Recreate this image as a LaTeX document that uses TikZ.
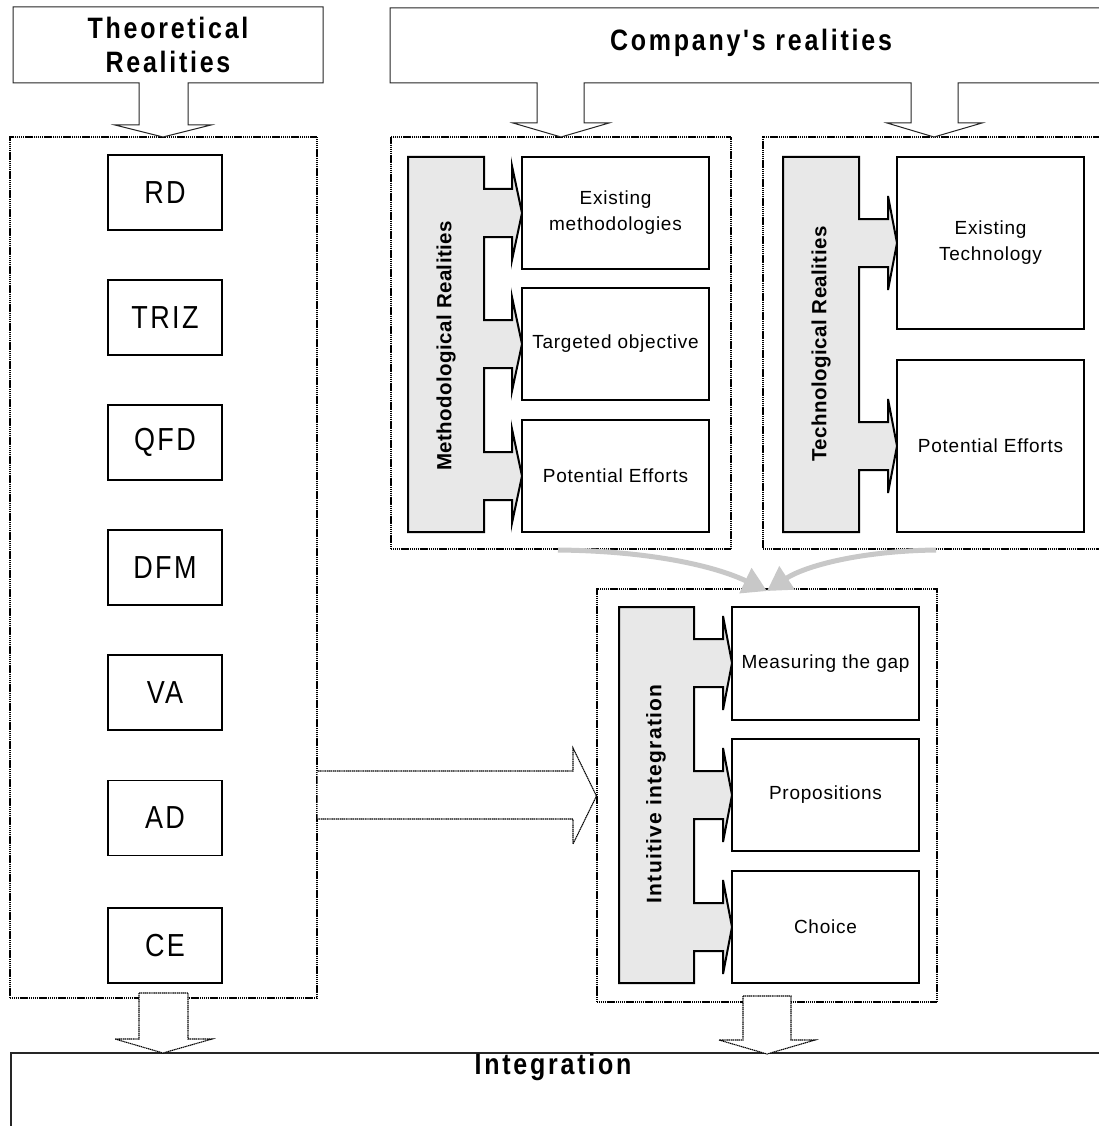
\documentclass[tikz,border=0pt]{standalone}
\usepackage{fontspec}
\setmainfont{Liberation Sans}
\newfontfamily\hdfont[LetterSpace=11]{Liberation Sans}
\newfontfamily\medfont[LetterSpace=9]{Liberation Sans}
\newfontfamily\smfont[LetterSpace=4]{Liberation Sans}
\newfontfamily\rotfont[LetterSpace=2]{Liberation Sans}
\newcommand{\vstretch}[1]{\scalebox{1}[1.18]{#1}}
\usetikzlibrary{arrows.meta}
\definecolor{combgray}{HTML}{E8E8E8}
\definecolor{curvegray}{HTML}{C8C8C8}
\begin{document}
\begin{tikzpicture}[x=1pt,y=-1pt,
  callout/.style={draw=black!85, line width=1pt, fill=white, line join=miter},
  container/.style={draw=black, line width=1.1pt, dash pattern=on 1.3pt off 0.6pt, inner sep=0pt},
  dotarrow/.style={draw=black, line width=1.1pt, dash pattern=on 1.3pt off 0.6pt, fill=white},
  tbox/.style={draw=black, line width=1.1pt, fill=white, inner sep=0pt, align=center},
  theobox/.style={tbox, minimum width=114pt, minimum height=75pt, font=\medfont\fontsize{27}{30}\selectfont},
  infobox/.style={tbox, minimum width=187pt, font=\smfont\fontsize{19}{26}\selectfont},
  comb/.style={draw=black, line width=2pt, fill=combgray, line join=miter},
  hdtext/.style={font=\hdfont\bfseries\fontsize{25}{34}\selectfont, align=center},
  combtext/.style={font=\rotfont\bfseries\fontsize{20.5}{24}\selectfont, rotate=90},
  curve/.style={draw=curvegray, line width=5pt, -{Triangle[length=24pt,width=27pt]}}
]
\useasboundingbox (0,0) rectangle (1099,1126);
\clip (0,0) rectangle (1099,1126);

% containers
\node[container, minimum width=307pt, minimum height=861pt] (theoC) at (163.5,567.5) {};
\node[container, minimum width=340pt, minimum height=412pt] (methC) at (561,343) {};
\node[container, minimum width=347pt, minimum height=412pt] (techC) at (936.5,343) {};
\node[container, minimum width=340pt, minimum height=413pt] (intC) at (767,795.5) {};

% header callouts
\draw[callout] (13,7) -- (323,7) -- (323,83) -- (188,83) -- (188,125) -- (211,125) -- (163,137)
  -- (115,125) -- (139,125) -- (139,83) -- (13,83) -- cycle;
\node[hdtext] (theoH) at (168,45) {\vstretch{Theoretical}\\\vstretch{Realities}};

\draw[callout] (390,8) -- (1110,8) -- (1110,83) -- (958,83) -- (958,123) -- (982,123) -- (934,137)
  -- (887,123) -- (911,123) -- (911,83) -- (584,83) -- (584,123) -- (609,123) -- (561,137)
  -- (513,123) -- (537,123) -- (537,83) -- (390,83) -- cycle;
\node[hdtext] (compH) at (751,43) {\vstretch{Company's realities}};

% theoretical boxes
\node[theobox] (rd)   at (165,192.5) {\vstretch{RD}};
\node[theobox] (triz) at (165,317.5) {\vstretch{TRIZ}};
\node[theobox] (qfd)  at (165,442.5) {\vstretch{QFD}};
\node[theobox] (dfm)  at (165,567.5) {\vstretch{DFM}};
\node[theobox] (va)   at (165,692.5) {\vstretch{VA}};
\node[theobox] (ad)   at (165,818) {\vstretch{AD}};
\node[theobox] (ce)   at (165,945.5) {\vstretch{CE}};

% methodological comb
\draw[comb] (408,157) -- (484,157)
  foreach \c in {213,344,476} { -- (484,\c-24) -- (512,\c-24) -- (512,\c-47) -- (522,\c)
  -- (512,\c+47) -- (512,\c+24) -- (484,\c+24) }
  -- (484,532) -- (408,532) -- cycle;
\node[combtext] (methL) at (446,346) {Methodological Realities};
\node[infobox, minimum height=112pt] (exm) at (615.5,213) {Existing\\methodologies};
\node[infobox, minimum height=112pt] (tgo) at (615.5,344) {Targeted objective};
\node[infobox, minimum height=112pt] (pem) at (615.5,476) {Potential Efforts};

% technological comb
\draw[comb] (783,157) -- (859,157)
  foreach \c in {243,446} { -- (859,\c-24) -- (888,\c-24) -- (888,\c-47) -- (897,\c)
  -- (888,\c+47) -- (888,\c+24) -- (859,\c+24) }
  -- (859,532) -- (783,532) -- cycle;
\node[combtext] (techL) at (821,344) {Technological Realities};
\node[infobox, minimum height=172pt] (ext) at (990.5,243) {Existing\\Technology};
\node[infobox, minimum height=172pt] (pet) at (990.5,446) {Potential Efforts};

% intuitive integration comb
\draw[comb] (619,607) -- (694,607)
  foreach \c in {663,795,927} { -- (694,\c-24) -- (723,\c-24) -- (723,\c-47) -- (732,\c)
  -- (723,\c+47) -- (723,\c+24) -- (694,\c+24) }
  -- (694,983) -- (619,983) -- cycle;
\node[combtext, font=\rotfont\bfseries\fontsize{21}{24}\selectfont\addfontfeatures{LetterSpace=6}] (intL) at (656,794) {Intuitive integration};
\node[infobox, minimum height=113pt] (mgap) at (825.5,663.5) {Measuring the gap};
\node[infobox, minimum height=112pt] (prop) at (825.5,795) {Propositions};
\node[infobox, minimum height=112pt] (choi) at (825.5,927) {Choice};

% big dotted arrow theoretical -> intuitive
\draw[dotarrow] (theoC.east |- 0,771) -- (573,771) -- (573,748) -- (intC.west |- 0,796)
  -- (573,844) -- (573,819) -- (theoC.east |- 0,819);

% integration box
\draw[line width=1.1pt, draw=black!85] (11,1140) -- (11,1053) -- (1110,1053);
\node[hdtext, anchor=base] (integ) at (553,1074) {\vstretch{Integration}};

% dotted down arrows
\draw[dotarrow] (139,993) -- (188,993) -- (188,1039) -- (212,1039) -- (163,1053)
  -- (115,1039) -- (139,1039) -- cycle;
\draw[dotarrow] (743,996) -- (791,996) -- (791,1040) -- (815,1040) -- (767,1054)
  -- (719,1040) -- (743,1040) -- cycle;

% gray curved arrows
\coordinate (cL) at (558,550);
\coordinate (cR) at (936,550);
\coordinate (cT) at (767,591);
\draw[curve] (cL) .. controls (650,551) and (715,566) .. (cT);
\draw[curve] (cR) .. controls (860,551) and (805,566) .. (cT);
\end{tikzpicture}
\end{document}
